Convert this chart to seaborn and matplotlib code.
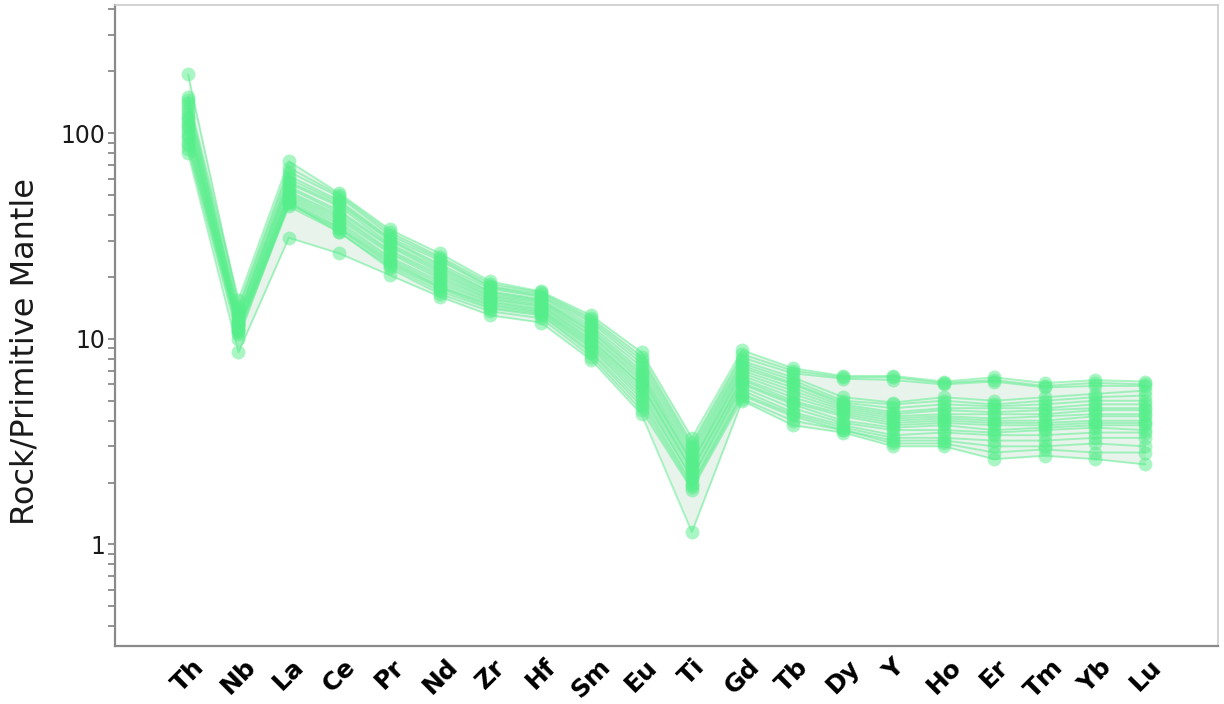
import numpy as np
import pandas as pd
import matplotlib
matplotlib.use("Agg")
import matplotlib.pyplot as plt
import seaborn as sns
from matplotlib.ticker import LogLocator, NullFormatter, FixedLocator, FixedFormatter

# elements on the x axis (primitive-mantle normalised spider diagram)
elements = ['Th', 'Nb', 'La', 'Ce', 'Pr', 'Nd', 'Zr', 'Hf', 'Sm', 'Eu',
            'Ti', 'Gd', 'Tb', 'Dy', 'Y', 'Ho', 'Er', 'Tm', 'Yb', 'Lu']

# one list per sample
s01 = [150, 15.5, 73, 51, 34, 26, 19, 17, 13, 8.6, 3.3, 8.8, 7.2, 6.6, 6.6, 6.2, 6.5, 6.1, 6.3, 6.2]
s02 = [193, 14.5, 68, 50, 33, 25, 18.5, 16.8, 12.6, 8.2, 3.1, 8.4, 7.0, 6.5, 6.5, 6.1, 6.3, 5.9, 6.1, 6.0]
s03 = [145, 14, 65, 49, 32, 24.5, 18, 16.5, 12.3, 7.9, 3.0, 8.1, 6.8, 6.4, 6.3, 6.0, 6.2, 5.8, 5.9, 5.9]
s04 = [140, 13.5, 62, 47, 31, 24, 17.8, 16.2, 12, 7.6, 2.9, 7.8, 6.5, 5.2, 4.9, 5.2, 5.0, 5.2, 5.4, 5.6]
s05 = [135, 13, 60, 46, 30.5, 23, 17.5, 16, 11.6, 7.3, 2.8, 7.6, 6.3, 5.0, 4.8, 5.0, 4.8, 5.0, 5.2, 5.3]
s06 = [130, 13, 58, 45, 30, 22.5, 17, 15.6, 11.3, 7.0, 2.7, 7.4, 6.1, 4.9, 4.6, 4.8, 4.7, 4.8, 5.0, 5.0]
s07 = [125, 12.5, 57, 44, 29, 22, 16.8, 15.4, 11, 6.8, 2.6, 7.2, 6.0, 4.8, 4.4, 4.6, 4.6, 4.6, 4.8, 4.8]
s08 = [120, 12.5, 55, 42, 28.5, 21.5, 16.5, 15.2, 10.8, 6.6, 2.5, 7.0, 5.8, 4.7, 4.3, 4.5, 4.4, 4.5, 4.6, 4.6]
s09 = [118, 12, 54, 41, 28, 21, 16.2, 15, 10.5, 6.4, 2.5, 6.8, 5.6, 4.6, 4.2, 4.3, 4.3, 4.3, 4.5, 4.5]
s10 = [115, 12, 52, 40, 27, 20.5, 16, 14.7, 10.3, 6.2, 2.4, 6.6, 5.4, 4.5, 4.1, 4.2, 4.1, 4.2, 4.3, 4.3]
s11 = [110, 11.8, 51, 39, 26.5, 20, 15.7, 14.5, 10, 6.0, 2.3, 6.4, 5.2, 4.4, 4.0, 4.1, 4.0, 4.0, 4.2, 4.2]
s12 = [108, 11.5, 50, 38, 26, 19.5, 15.5, 14.3, 9.8, 5.9, 2.3, 6.3, 5.0, 4.3, 3.9, 4.0, 3.9, 3.9, 4.0, 4.0]
s13 = [105, 11.5, 49, 37, 25, 19, 15.2, 14, 9.6, 5.7, 2.2, 6.1, 4.9, 4.2, 3.8, 3.9, 3.8, 3.8, 3.9, 3.9]
s14 = [100, 11.2, 48, 36, 24.5, 18.5, 15, 13.8, 9.4, 5.5, 2.1, 6.0, 4.8, 4.0, 3.7, 3.8, 3.6, 3.7, 3.8, 3.8]
s15 = [97, 11, 47, 35, 24, 18, 14.7, 13.6, 9.2, 5.3, 2.1, 5.8, 4.6, 3.9, 3.6, 3.6, 3.5, 3.6, 3.7, 3.6]
s16 = [95, 11, 46, 34.5, 23.5, 17.8, 14.5, 13.4, 9.0, 5.1, 2.0, 5.6, 4.4, 3.8, 3.4, 3.5, 3.4, 3.4, 3.5, 3.5]
s17 = [90, 10.8, 45, 34, 23, 17.5, 14.2, 13.2, 8.7, 4.9, 1.95, 5.4, 4.3, 3.7, 3.3, 3.3, 3.2, 3.2, 3.3, 3.3]
s18 = [88, 10.5, 44, 33, 22.5, 17, 14, 13, 8.5, 4.7, 1.9, 5.3, 4.2, 3.6, 3.2, 3.2, 3.0, 3.0, 3.1, 3.0]
s19 = [84, 10, 46, 33, 22, 16.5, 13.6, 12.6, 8.2, 4.5, 1.85, 5.1, 4.0, 3.6, 3.1, 3.1, 2.8, 2.9, 2.8, 2.8]
s20 = [80, 8.6, 31, 26, 20.4, 16, 13, 12, 7.9, 4.3, 1.15, 5.0, 3.8, 3.5, 3.0, 3.0, 2.6, 2.7, 2.6, 2.45]

samples = [s01, s02, s03, s04, s05, s06, s07, s08, s09, s10,
           s11, s12, s13, s14, s15, s16, s17, s18, s19, s20]

GREEN = '#55ee8a'
FILL = '#e3f0e6'

# long table for seaborn
rows = []
for i, s in enumerate(samples):
    for j, v in enumerate(s):
        rows.append({'sample': i, 'pos': j, 'element': elements[j], 'value': v})
df = pd.DataFrame(rows)

sns.set_style('white')
plt.rcParams['font.family'] = ['DejaVu Sans']

fig = plt.figure(figsize=(12.24, 7.04), dpi=100)
ax = fig.add_axes([0.094, 0.082, 0.901, 0.911])

# min/max envelope
env = df.groupby('pos')['value'].agg(['min', 'max']).reset_index()
ax.fill_between(env['pos'], env['min'], env['max'], color=FILL, alpha=0.8, lw=0, zorder=1)

sns.lineplot(data=df, x='pos', y='value', units='sample', estimator=None,
             color=GREEN, marker='o', markersize=10, markeredgewidth=0,
             linewidth=1.4, alpha=0.5, ax=ax, zorder=2)

ax.set_yscale('log')
ax.set_ylim(0.32, 420)
ax.set_xlim(-1.45, 20.44)

ax.yaxis.set_major_locator(FixedLocator([1, 10, 100]))
ax.yaxis.set_major_formatter(FixedFormatter(['1', '10', '100']))
ax.yaxis.set_minor_locator(LogLocator(base=10, subs=np.arange(2, 10)))
ax.yaxis.set_minor_formatter(NullFormatter())
ax.tick_params(axis='y', which='both', direction='out', length=5, width=1.3,
               color='#8a8a8a', labelsize=17, labelcolor='#1a1a1a', left=True, pad=2)

ax.set_xticks(range(len(elements)))
ax.set_xticklabels(elements, rotation=45, fontsize=18, fontweight='bold',
                   ha='center', color='black')
ax.tick_params(axis='x', length=0, pad=6)

ax.set_xlabel('')
ax.set_ylabel('Rock/Primitive Mantle', fontsize=23, color='#1a1a1a')
ax.yaxis.set_label_coords(-0.068, 0.46)

for side in ['left', 'bottom']:
    ax.spines[side].set_color('#8a8a8a')
    ax.spines[side].set_linewidth(1.6)
for side in ['top', 'right']:
    ax.spines[side].set_color('#cccccc')
    ax.spines[side].set_linewidth(1.2)

fig.savefig('out.png', dpi=100)
